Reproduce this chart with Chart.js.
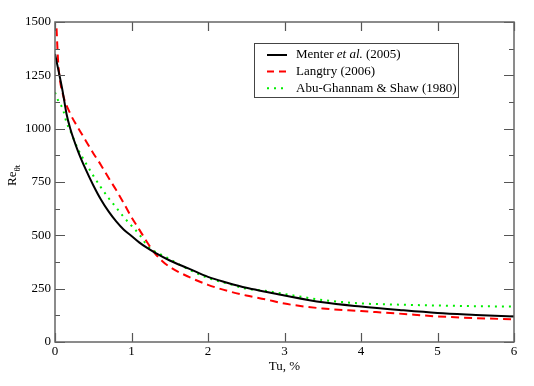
<!DOCTYPE html>
<html lang="en">
<head>
    <meta charset="UTF-8">
    <title>Re theta t vs Tu</title>
    <script src="https://cdn.jsdelivr.net/npm/chart.js"></script>
    <style>
        body { margin: 0; background: #fff; }
        #wrap { width: 534px; height: 386px; }
    </style>
</head>
<body>
    <div id="wrap"><canvas id="reChart" width="534" height="386"></canvas></div>

    <script>
        // Menter et al. (2005)
        const tuMenter = [0, 0.05, 0.1, 0.15, 0.2, 0.3, 0.4, 0.5, 0.6, 0.7, 0.8, 0.9, 1.0, 1.1, 1.2, 1.3, 1.5, 1.75, 2.0, 2.25, 2.5, 2.75, 3.0, 3.5, 4.0, 4.5, 5.0, 5.5, 6.0];
        const reMenter = [1350, 1265, 1175, 1070, 1000, 895, 810, 735, 668, 612, 565, 526, 497, 467, 442, 420, 382, 344, 305, 278, 254, 236, 218, 186, 166, 150, 136, 127, 119];

        // Langtry (2006)
        const tuLangtry = [0.02, 0.04, 0.06, 0.1, 0.2, 0.3, 0.4, 0.5, 0.6, 0.7, 0.8, 0.9, 1.0, 1.1, 1.2, 1.3, 1.4, 1.5, 1.75, 2.0, 2.25, 2.5, 2.75, 3.0, 3.5, 4.0, 4.5, 5.0, 5.5, 6.0];
        const reLangtry = [1470, 1320, 1240, 1165, 1070, 1005, 945, 885, 830, 770, 712, 650, 585, 528, 470, 418, 380, 352, 305, 268, 240, 218, 200, 180, 157, 145, 133, 120, 112, 106];

        // Abu-Ghannam & Shaw (1980)
        const tuAbu = [0, 0.05, 0.1, 0.15, 0.2, 0.3, 0.4, 0.5, 0.6, 0.7, 0.8, 0.9, 1.0, 1.1, 1.2, 1.3, 1.4, 1.5, 1.75, 2.0, 2.25, 2.5, 2.75, 3.0, 3.5, 4.0, 4.5, 5.0, 5.5, 6.0];
        const reAbu = [1170, 1125, 1095, 1030, 990, 905, 840, 780, 725, 675, 630, 585, 545, 505, 455, 425, 408, 388, 340, 300, 275, 250, 240, 225, 197, 181, 175, 171, 168, 166];

        const xTicks = [0, 1, 2, 3, 4, 5, 6];
        const yTicks = [0, 250, 500, 750, 1000, 1250, 1500];
        const yMinor = [125, 375, 625, 875, 1125, 1375];

        const serif = '"Liberation Serif", "DejaVu Serif", serif';

        function toPoints(xs, ys) {
            return xs.map((x, i) => ({ x: x, y: ys[i] }));
        }

        // inward ticks, frame, legend and the y title
        const decorations = {
            id: 'decorations',
            afterDatasetsDraw(chart) {
                const ctx = chart.ctx;
                const a = chart.chartArea;
                const xs = chart.scales.x;
                const ys = chart.scales.y;
                ctx.save();
                ctx.strokeStyle = '#555';
                ctx.lineWidth = 1.2;
                ctx.beginPath();
                xTicks.forEach(v => {
                    const px = Math.round(xs.getPixelForValue(v)) + 0.5;
                    ctx.moveTo(px, a.bottom); ctx.lineTo(px, a.bottom - 9);
                    ctx.moveTo(px, a.top); ctx.lineTo(px, a.top + 9);
                });
                yTicks.forEach(v => {
                    const py = Math.round(ys.getPixelForValue(v)) + 0.5;
                    ctx.moveTo(a.left, py); ctx.lineTo(a.left + 10, py);
                    ctx.moveTo(a.right, py); ctx.lineTo(a.right - 10, py);
                });
                yMinor.forEach(v => {
                    const py = Math.round(ys.getPixelForValue(v)) + 0.5;
                    ctx.moveTo(a.left, py); ctx.lineTo(a.left + 5, py);
                    ctx.moveTo(a.right, py); ctx.lineTo(a.right - 5, py);
                });
                ctx.stroke();

                // frame
                ctx.lineWidth = 1.5;
                ctx.strokeStyle = '#666';
                ctx.strokeRect(a.left, a.top, a.right - a.left, a.bottom - a.top);

                // legend
                ctx.fillStyle = '#fff';
                ctx.fillRect(254, 43, 204, 54);
                ctx.lineWidth = 1;
                ctx.strokeStyle = '#444';
                ctx.strokeRect(254.5, 43.5, 204, 54);
                const rows = [
                    { color: '#000', dash: [], parts: [['Menter ', ''], ['et al.', 'italic '], [' (2005)', '']] },
                    { color: '#ff0000', dash: [7, 5], parts: [['Langtry (2006)', '']] },
                    { color: '#00ee00', dash: [2, 5], parts: [['Abu-Ghannam & Shaw (1980)', '']] }
                ];
                rows.forEach((r, i) => {
                    const y = 55 + i * 16.6;
                    ctx.beginPath();
                    ctx.setLineDash(r.dash);
                    ctx.strokeStyle = r.color;
                    ctx.lineWidth = 2;
                    ctx.moveTo(267, y); ctx.lineTo(287, y);
                    ctx.stroke();
                    ctx.setLineDash([]);
                    let tx = 296;
                    ctx.fillStyle = '#000';
                    ctx.textBaseline = 'middle';
                    ctx.textAlign = 'left';
                    r.parts.forEach(p => {
                        ctx.font = p[1] + '13px ' + serif;
                        ctx.fillText(p[0], tx, y);
                        tx += ctx.measureText(p[0]).width;
                    });
                });

                // y axis title Re with subscript theta t
                ctx.translate(16, 186);
                ctx.rotate(-Math.PI / 2);
                ctx.fillStyle = '#000';
                ctx.textAlign = 'left';
                ctx.textBaseline = 'alphabetic';
                ctx.font = '13px ' + serif;
                ctx.fillText('Re', 0, 0);
                const w = ctx.measureText('Re').width;
                ctx.font = '9px ' + serif;
                ctx.fillText('θt', w, 3.5);
                ctx.restore();
            }
        };

        const ctx = document.getElementById('reChart').getContext('2d');
        const reChart = new Chart(ctx, {
            type: 'line',
            data: {
                datasets: [
                    {
                        label: 'Menter et al. (2005)',
                        data: toPoints(tuMenter, reMenter),
                        borderColor: '#000',
                        borderWidth: 2
                    },
                    {
                        label: 'Langtry (2006)',
                        data: toPoints(tuLangtry, reLangtry),
                        borderColor: '#ff0000',
                        borderWidth: 2,
                        borderDash: [8, 5]
                    },
                    {
                        label: 'Abu-Ghannam & Shaw (1980)',
                        data: toPoints(tuAbu, reAbu),
                        borderColor: '#00ee00',
                        borderWidth: 2,
                        borderDash: [2, 5]
                    }
                ]
            },
            options: {
                responsive: false,
                animation: false,
                layout: { padding: { top: 22, right: 20, left: 0, bottom: 0 } },
                elements: {
                    point: { radius: 0 },
                    line: { cubicInterpolationMode: 'monotone', fill: false }
                },
                plugins: {
                    legend: { display: false },
                    tooltip: { enabled: false }
                },
                scales: {
                    x: {
                        type: 'linear',
                        min: 0,
                        max: 6,
                        afterFit: s => { s.height = 44; },
                        grid: { display: false, drawTicks: false },
                        border: { display: false },
                        ticks: { stepSize: 1, padding: 2, color: '#000', font: { family: serif, size: 13 }, callback: v => String(v) },
                        title: { display: true, text: 'Tu, %', color: '#000', padding: { top: 0, bottom: 12 }, font: { family: serif, size: 13 } }
                    },
                    y: {
                        min: 0,
                        max: 1500,
                        afterFit: s => { s.width = 55; },
                        grid: { display: false, drawTicks: false },
                        border: { display: false },
                        ticks: { stepSize: 250, padding: 4, color: '#000', font: { family: serif, size: 13 }, callback: v => String(v) }
                    }
                }
            },
            plugins: [decorations]
        });
    </script>
</body>
</html>
